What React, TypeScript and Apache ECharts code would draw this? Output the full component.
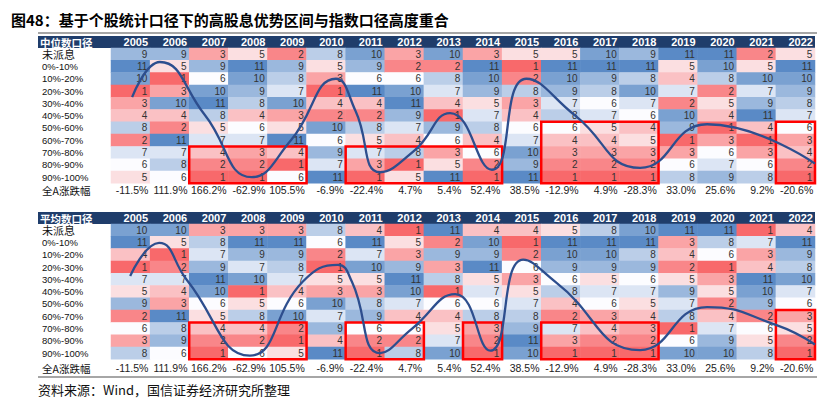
import React, { useEffect, useRef } from 'react';
import * as echarts from 'echarts';

const years = ['2005', '2006', '2007', '2008', '2009', '2010', '2011', '2012', '2013', '2014', '2015', '2016', '2017', '2018', '2019', '2020', '2021', '2022'];
const rowLabels = ['未派息', '0%-10%', '10%-20%', '20%-30%', '30%-40%', '40%-50%', '50%-60%', '60%-70%', '70%-80%', '80%-90%', '90%-100%'];

// ranks per year (column), top to bottom in rowLabels order — 中位数口径
const medianRanks = [
  [9, 11, 10, 1, 3, 4, 8, 2, 7, 6, 5],
  [9, 5, 1, 3, 10, 4, 2, 11, 7, 8, 6],
  [3, 9, 6, 10, 11, 8, 5, 7, 4, 2, 1],
  [5, 11, 10, 9, 8, 4, 6, 7, 3, 2, 1],
  [2, 9, 8, 7, 10, 3, 5, 11, 4, 1, 6],
  [8, 5, 3, 1, 4, 2, 10, 6, 9, 7, 11],
  [10, 9, 6, 11, 4, 2, 8, 5, 7, 3, 1],
  [3, 2, 6, 10, 11, 9, 7, 4, 8, 1, 5],
  [10, 2, 8, 7, 4, 1, 9, 6, 3, 5, 11],
  [3, 11, 10, 9, 5, 7, 8, 4, 6, 2, 1],
  [5, 1, 2, 8, 3, 4, 6, 7, 10, 9, 11],
  [5, 11, 10, 9, 7, 8, 6, 4, 3, 2, 1],
  [10, 11, 9, 8, 6, 7, 5, 4, 3, 2, 1],
  [9, 11, 8, 10, 7, 6, 4, 5, 3, 2, 1],
  [11, 5, 4, 7, 2, 10, 9, 1, 3, 6, 8],
  [11, 10, 8, 2, 5, 4, 1, 3, 6, 7, 9],
  [2, 5, 10, 7, 9, 11, 4, 1, 3, 6, 8],
  [5, 11, 10, 9, 8, 7, 6, 3, 4, 2, 1],
];

// 平均数口径
const meanRanks = [
  [10, 11, 4, 1, 7, 5, 9, 2, 6, 3, 8],
  [10, 5, 1, 2, 7, 4, 3, 11, 8, 9, 6],
  [3, 8, 7, 9, 11, 10, 6, 5, 4, 2, 1],
  [3, 11, 9, 7, 10, 1, 5, 8, 4, 2, 6],
  [3, 11, 9, 8, 7, 4, 6, 10, 2, 1, 5],
  [8, 6, 2, 1, 5, 3, 10, 7, 9, 4, 11],
  [4, 11, 7, 10, 5, 3, 8, 9, 6, 2, 1],
  [1, 5, 3, 9, 11, 10, 7, 4, 6, 2, 8],
  [11, 2, 9, 3, 8, 1, 6, 4, 5, 7, 10],
  [4, 10, 9, 11, 5, 7, 6, 8, 3, 2, 1],
  [4, 1, 2, 6, 3, 5, 7, 8, 9, 11, 10],
  [5, 11, 10, 9, 6, 8, 4, 2, 7, 3, 1],
  [8, 11, 10, 9, 5, 7, 6, 3, 4, 2, 1],
  [10, 11, 8, 9, 6, 7, 5, 4, 3, 2, 1],
  [11, 3, 4, 2, 5, 9, 7, 8, 1, 6, 10],
  [11, 8, 6, 1, 3, 5, 2, 4, 7, 9, 10],
  [1, 7, 3, 4, 11, 10, 9, 2, 6, 5, 8],
  [4, 11, 9, 8, 10, 7, 6, 3, 5, 2, 1],
];

const marketReturns = [-11.5, 111.9, 166.2, -62.9, 105.5, -6.9, -22.4, 4.7, 5.4, 52.4, 38.5, -12.9, 4.9, -28.3, 33.0, 25.6, 9.2, -20.6];

// hand-drawn trend curves: [column index, row index]
const topCurve = [
  [0.04, 3.5], [0.75, 0.64], [1.9, 4.95], [3.1, 10.0], [4.1, 7.0], [5.25, 2.0], [5.75, 4.6],
  [6.38, 9.6], [7.27, 7.8], [8.17, 4.8], [9.24, 9.4], [10.12, 2.0], [11.37, 5.0], [13.03, 9.25],
  [14.74, 5.7], [17.5, 8.9],
];
const bottomCurve = [
  [-0.01, 3.73], [0.73, 1.04], [1.44, 4.05], [3.05, 10.2], [4.4, 4.2], [5.3, 2.83], [5.66, 4.2],
  [6.38, 10.0], [7.2, 8.0], [8.3, 5.2], [9.2, 9.8], [10.04, 2.4], [10.9, 4.3], [13.03, 9.75],
  [14.74, 6.25], [16.5, 7.7], [17.5, 9.3],
];

// highlighted blocks: [first column, first row, last column, last row]
const topBoxes = [[2, 8, 4, 10], [6, 8, 9, 10], [11, 6, 13, 10], [17, 6, 17, 10]];
const bottomBoxes = [[2, 8, 4, 10], [6, 8, 7, 10], [9, 8, 9, 10], [11, 8, 13, 10], [17, 7, 17, 10]];

const LATIN = '"Liberation Sans", Arial, "Noto Sans CJK SC", sans-serif';
const CJK = '"Noto Sans CJK SC", "Liberation Sans", sans-serif';

const TL = 111;
const TW = 704;
const RH = 12.3;

function heatData(ranks: number[][]) {
  const out: number[][] = [];
  ranks.forEach((col, x) => col.forEach((v, y) => out.push([x, y, v])));
  return out;
}

function App() {
  const ref = useRef<HTMLDivElement>(null);
  useEffect(() => {
    const chart = echarts.init(ref.current!, null, { renderer: 'svg' });

    const tables = [
      { head: '中位数口径', headTop: 36, ranks: medianRanks, curve: topCurve, boxes: topBoxes, retH: 13.4 },
      { head: '平均数口径', headTop: 212, ranks: meanRanks, curve: bottomCurve, boxes: bottomBoxes, retH: 18 },
    ];

    const grid: any[] = [];
    const xAxis: any[] = [];
    const yAxis: any[] = [];
    const series: any[] = [];
    const graphic: any[] = [];
    const heatIdx: number[] = [];
    const retIdx: number[] = [];

    const hidden = { axisLine: { show: false }, axisTick: { show: false }, splitLine: { show: false }, axisLabel: { show: false } };

    tables.forEach((t, k) => {
      const top = t.headTop + 12;
      const g0 = k * 3;
      grid.push({ left: TL, top, width: TW, height: RH * 11 });
      grid.push({ left: TL, top, width: TW, height: RH * 11 });
      grid.push({ left: TL, top: top + RH * 11, width: TW, height: t.retH });

      xAxis.push({
        type: 'category', gridIndex: g0, data: years, position: 'top', z: 10,
        axisLine: { show: false }, axisTick: { show: false }, splitLine: { show: false },
        axisLabel: {
          interval: 0, hideOverlap: false,
          margin: 6, verticalAlign: 'middle', align: 'center',
          formatter: (v: string) => `{y|${v}}`,
          rich: { y: { width: 35, align: 'right', lineHeight: 11, color: '#fff', fontWeight: 'bold', fontSize: 11, fontFamily: LATIN } },
        },
      });
      xAxis.push({ type: 'value', gridIndex: g0 + 1, min: -0.5, max: 17.5, show: false, ...hidden });
      xAxis.push({ type: 'category', gridIndex: g0 + 2, data: years, show: false, ...hidden });

      yAxis.push({
        type: 'category', gridIndex: g0, data: rowLabels, inverse: true,
        axisLine: { show: false }, axisTick: { show: false }, splitLine: { show: false },
        axisLabel: {
          interval: 0, hideOverlap: false,
          align: 'left', margin: 69, fontSize: 9.5, lineHeight: 10, color: '#111', fontFamily: LATIN,
          formatter: (v: string) => (v === '未派息' ? `{b|${v}}` : v),
          rich: { b: { fontSize: 11, lineHeight: 10, fontFamily: CJK, color: '#111' } },
        },
      });
      yAxis.push({ type: 'value', gridIndex: g0 + 1, min: -0.5, max: 10.5, inverse: true, show: false, ...hidden });
      yAxis.push({
        type: 'category', gridIndex: g0 + 2, data: ['全A涨跌幅'],
        axisLine: { show: false }, axisTick: { show: false }, splitLine: { show: false },
        axisLabel: { interval: 0, align: 'left', margin: 69, fontSize: 10.5, color: '#111', fontFamily: CJK },
      });

      heatIdx.push(series.length);
      series.push({
        type: 'heatmap', xAxisIndex: g0, yAxisIndex: g0, data: heatData(t.ranks), z: 2,
        itemStyle: { borderWidth: 0 },
        label: { show: true, position: 'insideRight', distance: 3, fontSize: 10, lineHeight: 11, color: '#333', fontFamily: LATIN, formatter: (p: any) => String(p.value[2]) },
        emphasis: { disabled: true },
      });
      retIdx.push(series.length);
      series.push({
        type: 'heatmap', xAxisIndex: g0 + 2, yAxisIndex: g0 + 2, z: 2,
        data: marketReturns.map((r, i) => [i, 0, r]),
        itemStyle: { borderWidth: 0 },
        label: { show: true, position: 'insideRight', distance: 2, fontSize: 10.5, color: '#222', fontFamily: LATIN, formatter: (p: any) => p.value[2].toFixed(1) + '%' },
        emphasis: { disabled: true },
      });
      series.push({
        type: 'custom', xAxisIndex: g0 + 1, yAxisIndex: g0 + 1, z: 4, clip: false,
        data: t.boxes.map((b) => [b[0], b[1], b[2], b[3]]),
        renderItem: (_p: any, api: any) => {
          const a = api.coord([api.value(0) - 0.5, api.value(1) - 0.5]);
          const b = api.coord([api.value(2) + 0.5, api.value(3) + 0.5]);
          return {
            type: 'rect',
            shape: { x: Math.min(a[0], b[0]), y: Math.min(a[1], b[1]), width: Math.abs(b[0] - a[0]), height: Math.abs(b[1] - a[1]) },
            style: { fill: 'none', stroke: '#FF0000', lineWidth: 2.5 },
          };
        },
      });
      series.push({
        type: 'line', xAxisIndex: g0 + 1, yAxisIndex: g0 + 1, z: 6, data: t.curve, smooth: 0.5,
        symbol: 'none', clip: false, lineStyle: { color: '#2D4E8E', width: 2.3 },
      });

      graphic.push({ type: 'rect', z: -1, shape: { x: 38, y: t.headTop, width: TL + TW - 38, height: 12 }, style: { fill: '#1F3D6B' } });
      graphic.push({
        type: 'text', z: 20, x: 40, y: t.headTop + 6,
        style: { text: t.head, fill: '#fff', font: `bold 10.5px ${CJK}`, lineHeight: 10, verticalAlign: 'middle' },
      });
    });

    graphic.push({ type: 'line', shape: { x1: 38, y1: 33, x2: 817, y2: 33 }, style: { stroke: '#888', lineWidth: 1.5 } });
    graphic.push({ type: 'line', shape: { x1: 38, y1: 377, x2: 817, y2: 377 }, style: { stroke: '#888', lineWidth: 1.5 } });
    graphic.push({
      type: 'text', x: 38, y: 389,
      style: { text: '资料来源：Wind，国信证券经济研究所整理', fill: '#111', font: `13px ${CJK}`, verticalAlign: 'middle' },
    });

    chart.setOption({
      animation: false,
      title: {
        text: '图48：基于个股统计口径下的高股息优势区间与指数口径高度重合',
        left: 6, top: 7,
        textStyle: { fontSize: 15, fontWeight: 'bold', color: '#000', fontFamily: CJK },
      },
      grid, xAxis, yAxis, series, graphic,
      visualMap: [
        {
          type: 'continuous', show: false, min: 1, max: 11, dimension: 2, seriesIndex: heatIdx,
          inRange: { color: ['#F8696B', '#FCFCFF', '#5A8AC6'] },
        },
        {
          type: 'continuous', show: false, min: -100, max: 200, dimension: 2, seriesIndex: retIdx,
          inRange: { color: ['rgba(255,255,255,0)', 'rgba(255,255,255,0)'] },
        },
      ],
    });
    return () => chart.dispose();
  }, []);
  return <div ref={ref} style={{ position: 'absolute', left: 0, top: 0, width: 827, height: 398 }} />;
}

export default App;
